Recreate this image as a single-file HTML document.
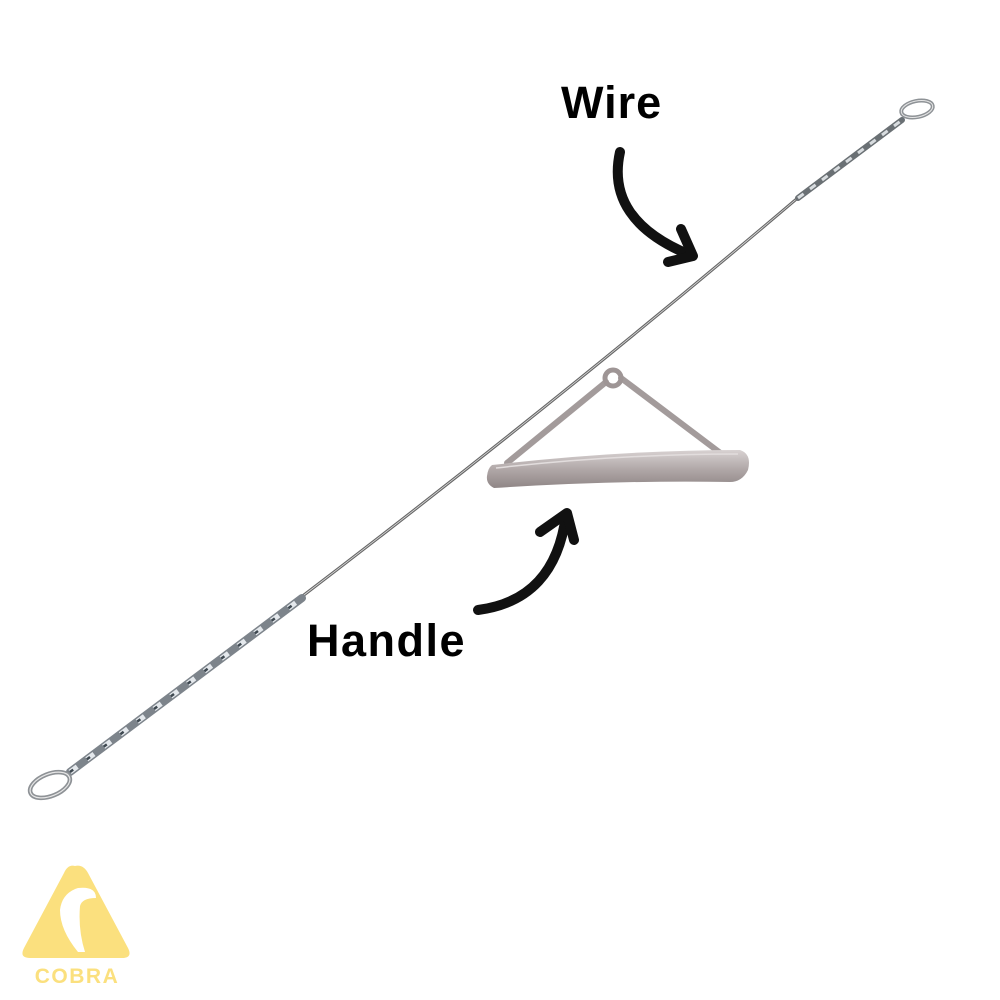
<!DOCTYPE html>
<html><head><meta charset="utf-8"><style>
html,body{margin:0;padding:0;background:#fff;width:1000px;height:1000px;overflow:hidden}
</style></head><body>
<svg width="1000" height="1000" viewBox="0 0 1000 1000" xmlns="http://www.w3.org/2000/svg">
<defs>
<linearGradient id="hg" x1="0" y1="0" x2="0" y2="1">
<stop offset="0" stop-color="#d8d2d2"/><stop offset="0.5" stop-color="#b1a8a8"/><stop offset="1" stop-color="#8f8686"/>
</linearGradient>
</defs>
<path d="M300,598 Q560,400 800,196" stroke="#666" stroke-width="3" fill="none"/>
<path d="M300,598 Q560,400 800,196" stroke="#ddd" stroke-width="0.8" fill="none"/>
<line x1="70" y1="772" x2="302" y2="598" stroke="#7d848b" stroke-width="8" stroke-linecap="round"/>
<line x1="70" y1="772" x2="302" y2="598" stroke="#e4e8ec" stroke-width="5" stroke-dasharray="9 12"/>
<line x1="70" y1="772" x2="302" y2="598" stroke="#3e4850" stroke-width="2.5" stroke-dasharray="4 17"/>
<ellipse cx="50" cy="785" rx="21" ry="11" transform="rotate(-22 50 785)" fill="none" stroke="#8e9296" stroke-width="4.5"/>
<ellipse cx="50" cy="785" rx="21" ry="11" transform="rotate(-22 50 785)" fill="none" stroke="#e6e6e6" stroke-width="1.2"/>
<line x1="798" y1="198" x2="902" y2="120" stroke="#6a7074" stroke-width="6" stroke-linecap="round"/>
<line x1="798" y1="198" x2="902" y2="120" stroke="#d8dcdf" stroke-width="3" stroke-dasharray="7 8"/>
<ellipse cx="917" cy="109" rx="16" ry="8" transform="rotate(-12 917 109)" fill="none" stroke="#8e9296" stroke-width="4"/>
<ellipse cx="917" cy="109" rx="16" ry="8" transform="rotate(-12 917 109)" fill="none" stroke="#e6e6e6" stroke-width="1"/>
<path d="M507,463 L606,382" stroke="#a39b9b" stroke-width="6" stroke-linecap="round"/>
<path d="M621,378 L727,458" stroke="#a39b9b" stroke-width="6" stroke-linecap="round"/>
<circle cx="613" cy="378" r="8" fill="none" stroke="#9e9595" stroke-width="5"/>
<path d="M492,465 Q620,450 740,450 Q752,454 748,470 Q742,482 730,482 Q620,480 494,488 Q486,484 487,476 Q488,468 492,465 Z" fill="url(#hg)"/>
<path d="M496,468 Q620,454 738,454" stroke="#e2dddd" stroke-width="1.5" fill="none"/>
<g stroke="#111" stroke-width="10" fill="none" stroke-linecap="round" stroke-linejoin="round">
<path d="M620,152 Q605,220 690,255"/>
<path d="M681,229 L693,256 L668,262"/>
<path d="M478,610 Q555,600 566,515"/>
<path d="M540,532 L567,513 L574,540"/>
</g>
<text x="561" y="118" font-family="Liberation Sans, sans-serif" font-weight="bold" font-size="45" fill="#000" letter-spacing="1">Wire</text>
<text x="307" y="656" font-family="Liberation Sans, sans-serif" font-weight="bold" font-size="45" fill="#000" letter-spacing="1.5">Handle</text>
<path d="M75,866 Q83,864 88,873 L128,948 Q133,958 122,958 L30,958 Q19,958 24,948 L64,873 Q68,864 75,866 Z" fill="#fbe07e"/>
<path d="M78,888 Q96,886 96,898 Q82,898 80,906 Q78,930 85,952 L78,952 Q60,930 60,910 Q62,893 78,888 Z" fill="#fff"/>
<text x="77" y="983" text-anchor="middle" font-family="Liberation Sans, sans-serif" font-weight="bold" font-size="21" fill="#fbe07e" letter-spacing="1.5">COBRA</text>
</svg>
</body></html>
